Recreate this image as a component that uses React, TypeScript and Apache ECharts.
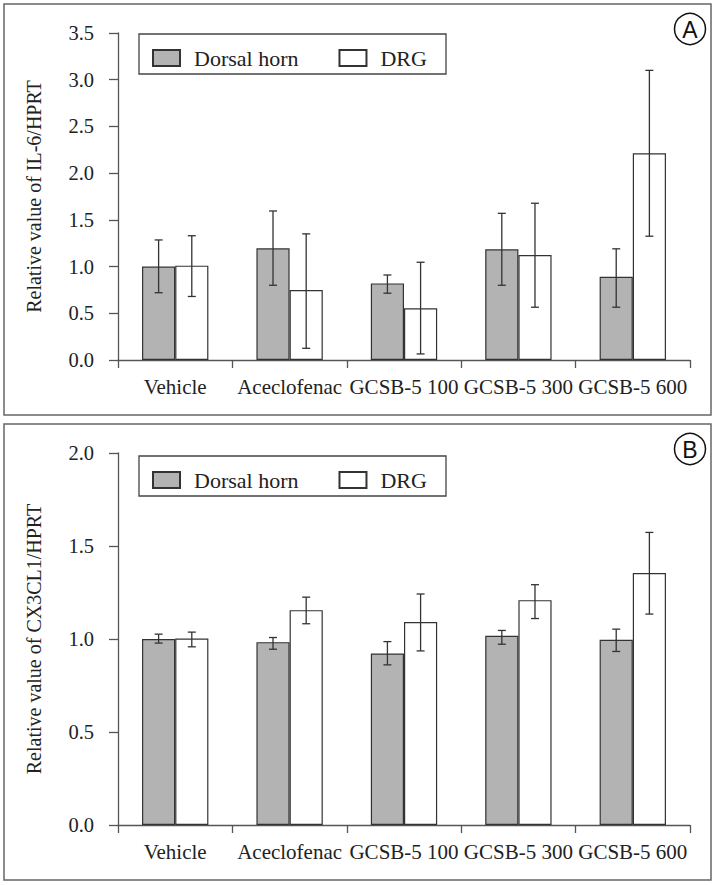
import React, { useEffect, useRef } from "react";
import * as echarts from "echarts";

const categories = ["Vehicle", "Aceclofenac", "GCSB-5 100", "GCSB-5 300", "GCSB-5 600"];
const seriesNames = ["Dorsal horn", "DRG"];

// Panel A: IL-6/HPRT
const il6Dorsal = [1.0, 1.195, 0.82, 1.185, 0.89];
const il6DorsalLow = [0.72, 0.8, 0.715, 0.8, 0.565];
const il6DorsalHigh = [1.285, 1.595, 0.91, 1.57, 1.19];
const il6Drg = [1.01, 0.75, 0.553, 1.124, 2.213];
const il6DrgLow = [0.68, 0.125, 0.065, 0.565, 1.325];
const il6DrgHigh = [1.33, 1.35, 1.046, 1.678, 3.1];

// Panel B: CX3CL1/HPRT
const cxDorsal = [1.0, 0.983, 0.922, 1.017, 0.996];
const cxDorsalLow = [0.978, 0.945, 0.861, 0.972, 0.933];
const cxDorsalHigh = [1.026, 1.008, 0.986, 1.046, 1.053];
const cxDrg = [1.003, 1.155, 1.091, 1.209, 1.355];
const cxDrgLow = [0.958, 1.082, 0.936, 1.11, 1.134];
const cxDrgHigh = [1.037, 1.225, 1.242, 1.292, 1.573];

const yTitleA = "Relative value of IL-6/HPRT";
const yTitleB = "Relative value of CX3CL1/HPRT";

const FONT = "Liberation Serif";
const AXIS_COLOR = "#555";
const EDGE = "#333";
const GRAY = "#b3b3b3";

function errData(lo: number[], hi: number[]) {
  return lo.map((v, i) => [i, v, hi[i]]);
}

function errSeries(gridIdx: number, sign: number, lo: number[], hi: number[]) {
  return {
    type: "custom",
    xAxisIndex: gridIdx,
    yAxisIndex: gridIdx,
    z: 10,
    silent: true,
    encode: { x: 0, y: [1, 2] },
    data: errData(lo, hi),
    renderItem: (params: any, api: any) => {
      const x = api.value(0);
      const l = api.value(1);
      const h = api.value(2);
      const band = api.size([1, 0])[0];
      const off = sign * band * 0.145;
      const pH = api.coord([x, h]);
      const pL = api.coord([x, l]);
      const cx = pH[0] + off;
      const cap = 4;
      const style = { stroke: EDGE, lineWidth: 1.3 };
      return {
        type: "group",
        children: [
          { type: "line", shape: { x1: cx, y1: pH[1], x2: cx, y2: pL[1] }, style },
          { type: "line", shape: { x1: cx - cap, y1: pH[1], x2: cx + cap, y2: pH[1] }, style },
          { type: "line", shape: { x1: cx - cap, y1: pL[1], x2: cx + cap, y2: pL[1] }, style },
        ],
      };
    },
  };
}

function barSeries(gridIdx: number, name: string, data: number[], color: string) {
  return {
    type: "bar",
    name,
    xAxisIndex: gridIdx,
    yAxisIndex: gridIdx,
    data,
    barGap: "0%",
    barCategoryGap: "42%",
    itemStyle: { color, borderColor: EDGE, borderWidth: 1.2 },
  };
}

function xAxis(gridIdx: number) {
  return {
    type: "category",
    gridIndex: gridIdx,
    data: categories,
    boundaryGap: true,
    axisLine: { lineStyle: { color: AXIS_COLOR, width: 1.3 } },
    axisTick: { show: true, length: 8, lineStyle: { color: AXIS_COLOR, width: 1.3 } },
    axisLabel: { interval: 0, color: "#222", fontFamily: FONT, fontSize: 21, margin: 16 },
    splitLine: { show: false },
  };
}

function yAxis(gridIdx: number, max: number, name: string) {
  return {
    type: "value",
    gridIndex: gridIdx,
    min: 0,
    max,
    interval: 0.5,
    name,
    nameLocation: "middle",
    nameGap: 74,
    nameTextStyle: { color: "#222", fontFamily: FONT, fontSize: 20 },
    axisLine: { show: true, lineStyle: { color: AXIS_COLOR, width: 1.3 } },
    axisTick: { show: true, length: 9, lineStyle: { color: AXIS_COLOR, width: 1.3 } },
    axisLabel: {
      color: "#222",
      fontFamily: FONT,
      fontSize: 20.5,
      margin: 24,
      formatter: (v: number) => v.toFixed(1),
    },
    splitLine: { show: false },
  };
}

function legend(top: number) {
  return {
    data: seriesNames,
    left: 152,
    top,
    orient: "horizontal",
    itemWidth: 27,
    itemHeight: 16,
    itemGap: 40,
    padding: 0,
    icon: "rect",
    selectedMode: false,
    textStyle: { color: "#222", fontFamily: FONT, fontSize: 22, padding: [0, 0, 0, 9], lineHeight: 16 },
  };
}

function panelGraphics(top: number, height: number, letter: string, legendTop: number) {
  return [
    {
      type: "rect",
      shape: { x: 4, y: top, width: 707, height },
      style: { fill: "none", stroke: "#666", lineWidth: 1.5 },
      silent: true,
      z: -10,
    },
    {
      type: "rect",
      shape: { x: 139, y: legendTop, width: 307, height: 40 },
      style: { fill: "#fff", stroke: "#444", lineWidth: 1.3 },
      silent: true,
      z: -5,
    },
    {
      type: "circle",
      shape: { cx: 690, cy: top + 25, r: 15.5 },
      style: { fill: "#fff", stroke: "#111", lineWidth: 1.5 },
      silent: true,
    },
    {
      type: "text",
      x: 690,
      y: top + 26,
      style: {
        text: letter,
        fontFamily: "Liberation Sans",
        fontSize: 23,
        fill: "#111",
        align: "center",
        verticalAlign: "middle",
      },
      silent: true,
    },
  ];
}

export default function App() {
  const ref = useRef<HTMLDivElement>(null);
  useEffect(() => {
    if (!ref.current) return;
    const chart = echarts.init(ref.current, undefined, { renderer: "svg" });
    chart.setOption({
      animation: false,
      backgroundColor: "#fff",
      textStyle: { fontFamily: FONT },
      grid: [
        { left: 118, right: 27, top: 33, height: 327 },
        { left: 118, right: 27, top: 453, height: 372 },
      ],
      legend: [legend(47), legend(469)],
      xAxis: [xAxis(0), xAxis(1)],
      yAxis: [yAxis(0, 3.5, yTitleA), yAxis(1, 2.0, yTitleB)],
      series: [
        barSeries(0, seriesNames[0], il6Dorsal, GRAY),
        barSeries(0, seriesNames[1], il6Drg, "#fff"),
        errSeries(0, -1, il6DorsalLow, il6DorsalHigh),
        errSeries(0, 1, il6DrgLow, il6DrgHigh),
        barSeries(1, seriesNames[0], cxDorsal, GRAY),
        barSeries(1, seriesNames[1], cxDrg, "#fff"),
        errSeries(1, -1, cxDorsalLow, cxDorsalHigh),
        errSeries(1, 1, cxDrgLow, cxDrgHigh),
      ],
      graphic: [
        ...panelGraphics(4, 411, "A", 34),
        ...panelGraphics(424, 456, "B", 456),
      ],
    });
    return () => chart.dispose();
  }, []);
  return (
    <div
      ref={ref}
      style={{ position: "absolute", left: 0, top: 0, width: 717, height: 885 }}
    />
  );
}
